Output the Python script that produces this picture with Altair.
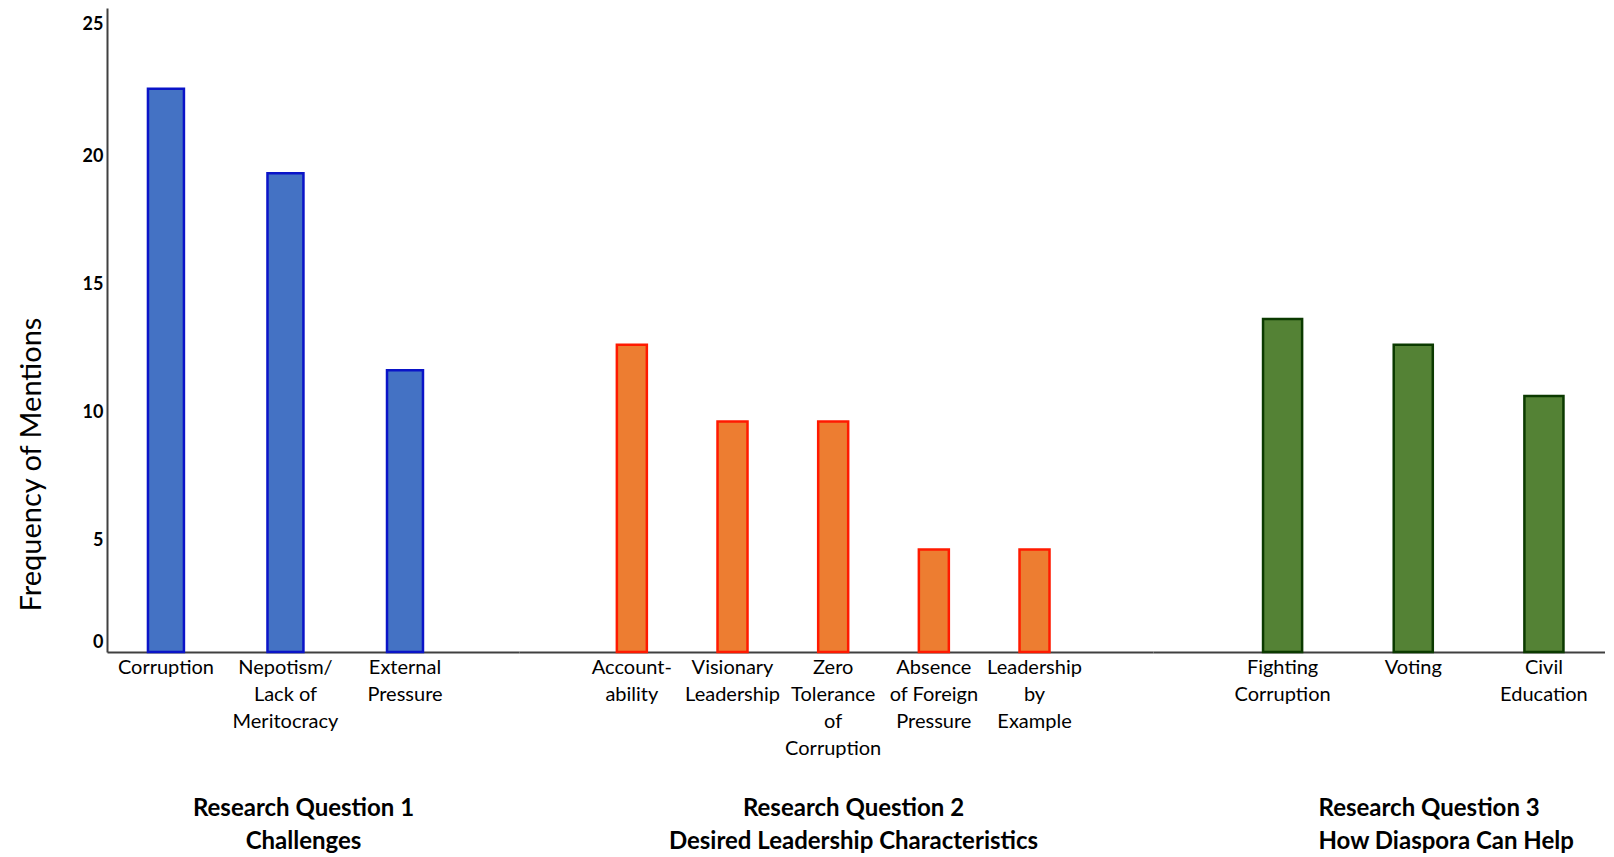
import altair as alt
import pandas as pd

FONT = "Lato"

# ---- data ----
q1_labels = ["Corruption", "Nepotism/\nLack of\nMeritocracy", "External\nPressure"]
q1_values = [22, 18.7, 11]

q2_labels = ["Account-\nability", "Visionary\nLeadership", "Zero\nTolerance\nof\nCorruption",
             "Absence\nof Foreign\nPressure", "Leadership\nby\nExample"]
q2_values = [12, 9, 9, 4, 4]

q3_labels = ["Fighting\nCorruption", "Voting", "Civil\nEducation"]
q3_values = [13, 12, 10]

q1_title = ["Research Question 1", "Challenges"]
q2_title = ["Research Question 2", "Desired Leadership Characteristics"]
q3_title = ["Research Question 3", "How Diaspora Can Help"]

y_ticks = [0, 5, 10, 15, 20, 25]
Y_DOMAIN = [0, 25.15]
HEIGHT = 644


def panel(labels, values, width, fill, stroke, pad_inner, pad_outer, align,
          title, title_x, title_align, show_y):
    df = pd.DataFrame({"label": labels, "value": values})
    x_axis = alt.Axis(
        title=title, labelExpr="split(datum.label, '\\n')", labelAngle=0,
        labelFont=FONT, labelFontSize=20, labelColor="#000000",
        labelLineHeight=27, labelPadding=5, labelBaseline="top",
        labelLimit=200,
        ticks=False, domainColor="#404040", domainWidth=2,
        titleFont=FONT, titleFontSize=24, titleFontWeight="bold",
        titleColor="#000000", titleLineHeight=33, titleY=144,
        titleBaseline="top", titleX=title_x, titleAlign=title_align,
        titleAnchor="start",
    )
    if show_y:
        y_axis = alt.Axis(
            title="Frequency of Mentions", values=y_ticks, grid=False,
            ticks=False, domainColor="#404040", domainWidth=2,
            labelFont=FONT, labelFontSize=18, labelFontWeight="bold",
            labelColor="#000000", labelPadding=4,
            labelOffset={"condition": [
                {"test": "datum.value == 0", "value": -10},
                {"test": "datum.value == 25", "value": 13}],
                "value": 16.5},
            titleFont=FONT, titleFontSize=29, titleFontWeight="normal",
            titleColor="#000000", titlePadding=36,
            titleY=456, titleAlign="center", titleAnchor="start",
        )
    else:
        y_axis = None
    return alt.Chart(df).mark_bar(
        fill=fill, stroke=stroke, strokeWidth=2.5
    ).encode(
        x=alt.X("label:N", sort=labels,
                scale=alt.Scale(type="band", paddingInner=pad_inner,
                                paddingOuter=pad_outer, align=align),
                axis=x_axis),
        y=alt.Y("value:Q", scale=alt.Scale(domain=Y_DOMAIN, nice=False, zero=True),
                axis=y_axis),
    ).properties(width=width, height=HEIGHT)


p1 = panel(q1_labels, q1_values, 412, "#4472C4", "#0A14C8", 0.699, 0.573, 0.299,
           q1_title, 196, "center", True)
p2 = panel(q2_labels, q2_values, 634, "#ED7D31", "#FF1A00", 0.702, 1.0, 0.486,
           q2_title, 334, "center", False)
p3 = panel(q3_labels, q3_values, 452, "#548235", "#0B3A00", 0.701, 0.58, 0.726,
           q3_title, 165, "left", False)

chart = alt.hconcat(p1, p2, p3, spacing=0).properties(
    padding={"left": 9, "top": 0, "right": 0, "bottom": 5}
).configure_view(stroke=None)

chart.save("out.html", embed_options={"renderer": "svg", "actions": False})
